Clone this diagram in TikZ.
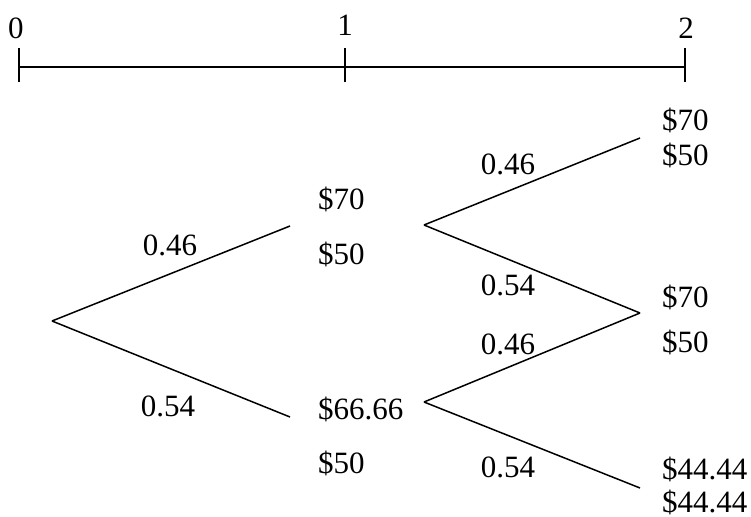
\documentclass[tikz,border=0pt]{standalone}
\usepackage{fontspec}
\setmainfont{Liberation Serif}
\begin{document}
\begin{tikzpicture}[x=1pt,y=-1pt,
  every node/.style={inner sep=0pt,font=\fontsize{31}{36}\selectfont},
  br/.style={line width=1.5pt},
  ax/.style={line width=1.5pt},
  lbl/.style={anchor=center},
  val/.style={anchor=west}]
\useasboundingbox (0,0) rectangle (751,516);
% time axis
\coordinate (t0) at (19,67);
\coordinate (t1) at (345,67);
\coordinate (t2) at (685,67);
\coordinate (t0a) at (19,48); \coordinate (t0b) at (19,82);
\coordinate (t1a) at (345,48); \coordinate (t1b) at (345,82);
\coordinate (t2a) at (685,48); \coordinate (t2b) at (685,82);
\draw[ax] (t0) -- (t2);
\draw[ax] (t0a) -- (t0b);
\draw[ax] (t1a) -- (t1b);
\draw[ax] (t2a) -- (t2b);
\node[lbl] (l0) at (16,28) {0};
\node[lbl] (l1) at (345,25) {1};
\node[lbl] (l2) at (686,28) {2};
% tree points
\coordinate (root) at (52,321);
\coordinate (ue) at (290,226);
\coordinate (de) at (290,417);
\coordinate (us) at (424,225);
\coordinate (ds) at (424,402);
\coordinate (uu) at (640,138);
\coordinate (mm) at (640,313);
\coordinate (dd) at (640,488);
\draw[br] (root) -- (ue);
\draw[br] (root) -- (de);
\draw[br] (us) -- (uu);
\draw[br] (us) -- (mm);
\draw[br] (ds) -- (mm);
\draw[br] (ds) -- (dd);
% probabilities
\node[lbl] (p1) at (170,245) {0.46};
\node[lbl] (p2) at (168,406) {0.54};
\node[lbl] (p3) at (508,164) {0.46};
\node[lbl] (p4) at (508,285) {0.54};
\node[lbl] (p5) at (508,344) {0.46};
\node[lbl] (p6) at (508,467) {0.54};
% values
\node[val] (v1) at (318,199) {\$70};
\node[val] (v2) at (318,254) {\$50};
\node[val] (v3) at (318,409) {\$66.66};
\node[val] (v4) at (318,463) {\$50};
\node[val] (v5) at (662,120) {\$70};
\node[val] (v6) at (662,155) {\$50};
\node[val] (v7) at (662,297) {\$70};
\node[val] (v8) at (662,342) {\$50};
\node[val] (v9) at (662,469) {\$44.44};
\node[val] (v10) at (662,502) {\$44.44};
\end{tikzpicture}
\end{document}
